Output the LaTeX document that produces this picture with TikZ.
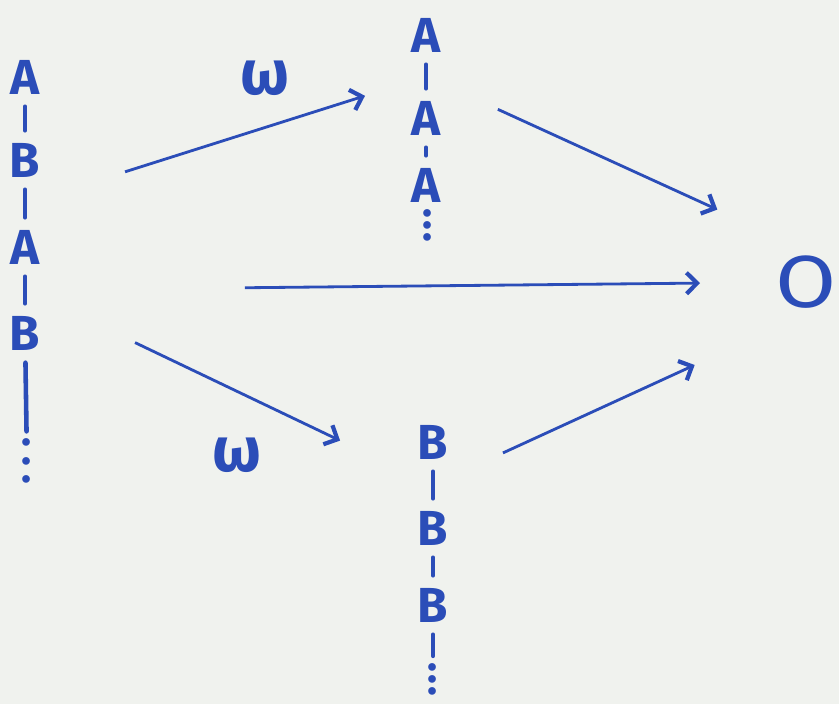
\documentclass[tikz,border=0pt]{standalone}
\usepackage{fontspec}
\setmainfont{Fira Sans}
\usepackage{tikz}
\usetikzlibrary{arrows.meta,calc}
\definecolor{Ink}{HTML}{2B4DB8}
\definecolor{Paper}{HTML}{F0F2EE}

\begin{document}
\begin{tikzpicture}[x=0.02cm,y=-0.02cm,
  >={Straight Barb[length=6pt,width=12pt,line width=2.4pt]},
  letter/.style={text=Ink,font=\fontsize{28}{30}\selectfont\bfseries,inner sep=3pt},
  dots/.style={text=Ink,align=center,font=\fontsize{24}{#1}\selectfont\bfseries,inner sep=0pt},
  bar/.style={draw=Ink,line width=2.6pt,line cap=round,shorten <=4pt,shorten >=4pt},
  arr/.style={->,draw=Ink,line width=1.6pt},
  lbl/.style={text=Ink,font=\fontsize{36}{36}\selectfont\bfseries}]
  \fill[Paper] (0,0) rectangle (839,704);
  \useasboundingbox (0,0) rectangle (839,704);
  % left chain
  \node[letter] (l1) at (25,77) {A};
  \node[letter] (l2) at (25,160) {B};
  \node[letter] (l3) at (25,247) {A};
  \node[letter] (l4) at (25,333) {B};
  \node[dots=10.5pt] (l5) at (27,461) {.\\.\\.};
  \foreach \a/\b in {l1/l2,l2/l3,l3/l4,l4/l5} \draw[bar] (\a) -- (\b);
  % upper chain
  \node[letter] (t1) at (426,35) {A};
  \node[letter] (t2) at (426,118) {A};
  \node[letter] (t3) at (426,185) {A};
  \node[dots=6.8pt] (t4) at (428,225) {.\\.\\.};
  \foreach \a/\b in {t1/t2,t2/t3} \draw[bar] (\a) -- (\b);
  % lower chain
  \node[letter] (b1) at (433,442) {B};
  \node[letter] (b2) at (433,528) {B};
  \node[letter] (b3) at (433,605) {B};
  \node[dots=6.8pt] (b4) at (433,679) {.\\.\\.};
  \foreach \a/\b in {b1/b2,b2/b3,b3/b4} \draw[bar] (\a) -- (\b);
  % target
  \node[letter,font=\fontsize{28}{30}\selectfont] (o) at (806,282) {\scalebox{1.8}[1.5]{O}};
  \coordinate (lm2) at ($(l2)!0.5!(l3)$);
  \coordinate (lm3) at ($(l3)!0.5!(l4)$);
  \coordinate (tm1) at ($(t1)!0.5!(t2)$);
  \coordinate (bm1) at ($(b1)!0.5!(b2)$);
  % arrows
  \draw[arr,shorten <=2.1cm,shorten >=1.28cm] (lm2) -- (tm1);
  \draw[arr,shorten <=1.58cm,shorten >=1.95cm] (tm1) -- (o.north);
  \draw[arr,shorten <=4.4cm,shorten >=2.12cm] (lm3) -- (o.center);
  \draw[arr,shorten <=2.44cm,shorten >=2.06cm] (lm3) -- (bm1);
  \draw[arr,shorten <=1.54cm,shorten >=2.45cm] (bm1) -- (o.south);
  \node[lbl] (w1) at (265,78) {ω};
  \node[lbl] (w2) at (237,455) {ω};
\end{tikzpicture}
\end{document}
